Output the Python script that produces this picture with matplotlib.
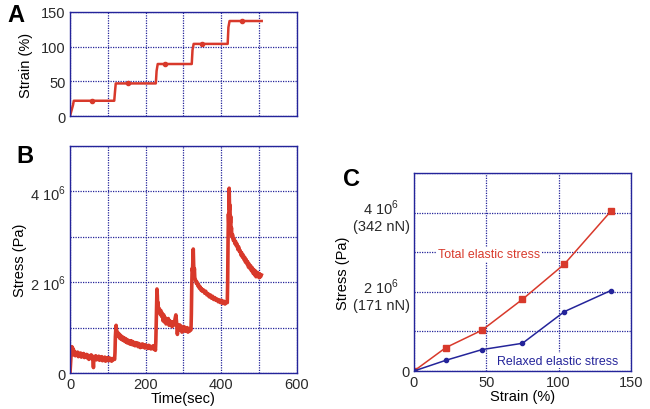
import numpy as np
import matplotlib.pyplot as plt

plt.rcParams['font.family'] = ['Liberation Sans', 'DejaVu Sans']
plt.rcParams['mathtext.fontset'] = 'custom'
plt.rcParams['mathtext.rm'] = 'Liberation Sans'

rojo = '#d8392b'
azul = '#24249a'

# --- A: deformacion (%) vs tiempo (s)
t_strain = [0, 4, 8, 10, 117, 119, 121, 227, 229, 232, 322, 324, 327, 417, 419, 422, 507]
strain = [0, 8, 16, 22, 22, 35, 47, 47, 65, 75, 75, 95, 104, 104, 128, 137, 137]
t_mark = [57, 154, 251, 350, 454]
strain_mark = [22, 47, 75, 104, 137]

# --- B: esfuerzo (x 10^6 Pa) vs tiempo (s), leido por tramos
t1 = [0, 1, 2, 3, 4, 5, 6, 7, 8, 9, 10, 12, 14, 16, 18, 20, 22, 24, 26, 28, 30, 32, 34, 36, 38, 40,
      42, 44, 46, 48, 50, 52, 54, 56, 58, 60, 61, 62, 63, 64, 66, 68, 70, 72, 74, 76, 78, 80, 82, 84,
      86, 88, 90, 92, 94, 96, 98, 100, 102, 104, 106, 108, 110, 112, 114, 116, 118]
s1 = [0, 0.15, 0.3, 0.42, 0.5, 0.58, 0.48, 0.55, 0.44, 0.52, 0.4, 0.47, 0.38, 0.45, 0.4, 0.46, 0.36,
      0.43, 0.39, 0.44, 0.35, 0.42, 0.37, 0.43, 0.34, 0.4, 0.36, 0.41, 0.33, 0.39, 0.3, 0.38, 0.34,
      0.4, 0.31, 0.37, 0.25, 0.12, 0.3, 0.36, 0.32, 0.38, 0.29, 0.35, 0.31, 0.37, 0.28, 0.34, 0.3,
      0.36, 0.27, 0.33, 0.29, 0.35, 0.26, 0.32, 0.3, 0.34, 0.27, 0.33, 0.28, 0.32, 0.26, 0.31, 0.29,
      0.33, 0.3]
t2 = [119, 120, 121, 122, 123, 124, 126, 128, 130, 132, 134, 136, 138, 140, 142, 144, 146, 148, 150,
      152, 154, 156, 158, 160, 162, 164, 166, 168, 170, 172, 174, 176, 178, 180, 182, 184, 186, 188,
      190, 192, 194, 196, 198, 200, 202, 204, 206, 208, 210, 212, 214, 216, 218, 220, 222, 224, 226]
s2 = [0.45, 0.8, 0.95, 1.05, 0.92, 0.85, 0.9, 0.8, 0.86, 0.76, 0.83, 0.74, 0.8, 0.72, 0.78, 0.7,
      0.76, 0.68, 0.74, 0.66, 0.72, 0.69, 0.64, 0.71, 0.63, 0.7, 0.62, 0.68, 0.64, 0.6, 0.67, 0.61,
      0.66, 0.58, 0.65, 0.6, 0.56, 0.63, 0.58, 0.64, 0.57, 0.61, 0.55, 0.62, 0.57, 0.6, 0.54, 0.61,
      0.56, 0.59, 0.53, 0.58, 0.55, 0.6, 0.52, 0.57, 0.5]
t3 = [227, 228, 229, 230, 231, 232, 233, 234, 236, 238, 240, 242, 244, 246, 248, 250, 252, 254, 256,
      258, 260, 262, 264, 266, 268, 270, 272, 274, 276, 278, 280, 282, 284, 286, 288, 290, 292, 294,
      296, 298, 300, 302, 304, 306, 308, 310, 312, 314, 316, 318, 320]
s3 = [0.7, 1.1, 1.5, 1.85, 1.7, 1.45, 1.55, 1.35, 1.42, 1.3, 1.38, 1.25, 1.32, 1.15, 1.28, 1.12,
      1.22, 1.08, 1.18, 1.1, 1.2, 1.05, 1.15, 1.08, 1.13, 1.02, 1.12, 1.05, 1.1, 1.2, 1.28, 1.1, 0.85,
      1.05, 0.98, 1.06, 0.94, 1.03, 0.9, 1.0, 0.95, 1.02, 0.92, 0.98, 0.93, 1.0, 0.9, 0.97, 0.92,
      0.98, 0.95]
t4 = [321, 322, 323, 324, 325, 326, 327, 328, 329, 330, 332, 334, 336, 338, 340, 342, 344, 346, 348,
      350, 353, 356, 359, 362, 365, 368, 371, 374, 377, 380, 383, 386, 389, 392, 395, 398, 401, 404,
      407, 410, 413, 416]
s4 = [1.3, 1.9, 2.3, 2.25, 2.5, 2.73, 2.4, 2.2, 2.3, 2.1, 2.05, 1.98, 2.0, 1.92, 1.95, 1.87, 1.9,
      1.83, 1.86, 1.8, 1.83, 1.76, 1.8, 1.72, 1.75, 1.68, 1.72, 1.65, 1.69, 1.62, 1.66, 1.6, 1.63,
      1.57, 1.61, 1.55, 1.6, 1.53, 1.58, 1.52, 1.57, 1.55]
t5 = [417, 418, 419, 420, 421, 422, 423, 424, 425, 426, 427, 428, 430, 432, 434, 436, 438, 440, 442,
      444, 446, 448, 450, 452, 454, 456, 458, 460, 462, 464, 466, 468, 470, 472, 474, 476, 478, 480,
      482, 484, 486, 488, 490, 492, 494, 496, 498, 500, 502, 504, 506]
s5 = [2.0, 2.9, 3.5, 3.3, 4.07, 3.6, 3.7, 3.3, 3.45, 3.1, 3.2, 3.0, 3.05, 2.92, 2.96, 2.85, 2.9, 2.8,
      2.84, 2.72, 2.78, 2.68, 2.7, 2.6, 2.65, 2.55, 2.6, 2.5, 2.55, 2.44, 2.5, 2.4, 2.45, 2.33, 2.4,
      2.3, 2.36, 2.25, 2.32, 2.2, 2.28, 2.16, 2.25, 2.12, 2.22, 2.14, 2.2, 2.1, 2.18, 2.12, 2.16]

# --- C: esfuerzo (x 10^6 Pa) vs deformacion (%)
strain_c = [0, 22, 47, 75, 104, 136]
total_c = [0, 0.59, 1.03, 1.81, 2.70, 4.03]
strain_r = [0, 22, 47, 75, 104, 136]
relaxed_c = [0, 0.27, 0.54, 0.70, 1.50, 2.03]


def estilo(ax):
    for sp in ax.spines.values():
        sp.set_color(azul)
        sp.set_linewidth(1.0)
    ax.grid(True, color=azul, linestyle=(0, (1, 1)), linewidth=0.9)
    ax.set_axisbelow(True)
    ax.tick_params(length=0, labelsize=10.5, colors='#2a2a2a', pad=3)


fig = plt.figure(figsize=(6.5, 4.1), dpi=100)

axA = fig.add_axes([0.1077, 0.7146, 0.349, 0.2537])
axA.plot(t_strain, strain, color=rojo, lw=1.8)
axA.plot(t_mark, strain_mark, 'o', color=rojo, ms=3)
axA.set_xlim(0, 600)
axA.set_ylim(0, 150)
axA.set_xticks([0, 100, 200, 300, 400, 500, 600])
axA.set_xticklabels([])
axA.set_yticks([0, 50, 100, 150])
axA.set_ylabel('Strain (%)', fontsize=10.5, labelpad=6)
estilo(axA)

axB = fig.add_axes([0.1077, 0.0878, 0.349, 0.5537])
tB = t1 + t2 + t3 + t4 + t5
sB = s1 + s2 + s3 + s4 + s5
axB.plot(tB, sB, color=rojo, lw=2.6)
axB.set_xlim(0, 600)
axB.set_ylim(0, 5)
axB.set_xticks([0, 100, 200, 300, 400, 500, 600])
axB.set_xticklabels(['0', '', '200', '', '400', '', '600'])
axB.set_yticks([0, 1, 2, 3, 4, 5])
axB.set_yticklabels(['0', '', r'2 10$^6$', '', r'4 10$^6$', ''])
axB.set_xlabel('Time(sec)', fontsize=10.5, labelpad=0)
axB.set_ylabel('Stress (Pa)', fontsize=10.5, labelpad=2)
estilo(axB)

axC = fig.add_axes([0.6369, 0.0927, 0.3338, 0.4829])
axC.plot(strain_c, total_c, color=rojo, lw=1.1, marker='s', ms=4)
axC.plot(strain_r, relaxed_c, color=azul, lw=1.1, marker='o', ms=3)
axC.set_xlim(0, 150)
axC.set_ylim(0, 5)
axC.set_xticks([0, 50, 100, 150])
axC.set_yticks([0, 1, 2, 3, 4, 5])
axC.set_yticklabels(['0', '', '2 10$^6$\n(171 nN)', '', '4 10$^6$\n(342 nN)', ''],
                    multialignment='center')
axC.set_xlabel('Strain (%)', fontsize=10.5, labelpad=0)
axC.set_ylabel('Stress (Pa)', fontsize=10.5, labelpad=2)
estilo(axC)
axC.text(52, 2.95, 'Total elastic stress', color=rojo, fontsize=8.9, ha='center', va='center',
         bbox=dict(facecolor='white', edgecolor='none', pad=1))
axC.text(99, 0.26, 'Relaxed elastic stress', color=azul, fontsize=8.9, ha='center', va='center',
         bbox=dict(facecolor='white', edgecolor='none', pad=1))

fig.text(0.012, 0.963, 'A', fontsize=17, fontweight='bold', va='center')
fig.text(0.025, 0.618, 'B', fontsize=17, fontweight='bold', va='center')
fig.text(0.528, 0.562, 'C', fontsize=17, fontweight='bold', va='center')

fig.savefig('out.png', dpi=100)
